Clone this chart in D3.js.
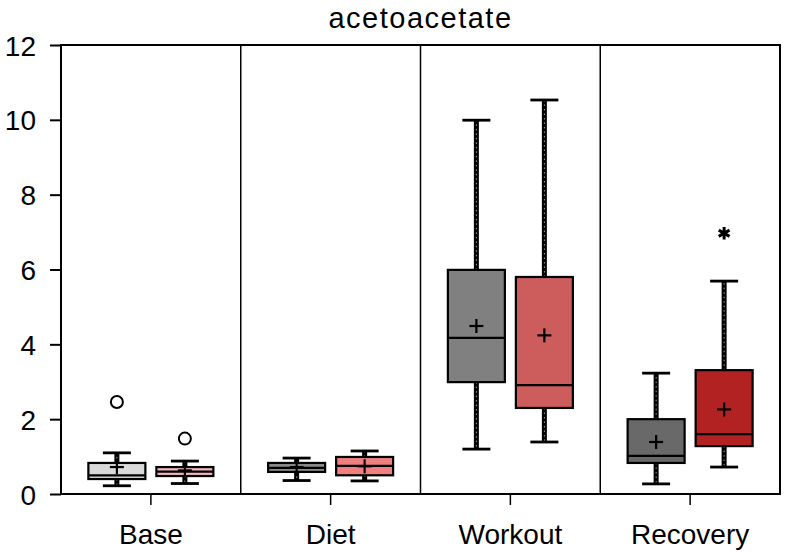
<!DOCTYPE html>
<html><head><meta charset="utf-8">
<script src="https://cdn.jsdelivr.net/npm/d3@7"></script>
<style>body{margin:0;background:#fff}svg{display:block}text{font-family:"Liberation Sans",Arial,sans-serif;fill:#000}</style>
</head><body><svg id="c" width="789" height="559"></svg>
<script>
const categories = ["Base","Diet","Workout","Recovery"];
const yTicks = [0,2,4,6,8,10,12];
// per category: whiskerMin, Q1, median, Q3, whiskerMax, mean
const g1Min = [0.22,0.36,1.20,0.27];
const g1Q1  = [0.40,0.59,2.99,0.83];
const g1Med = [0.50,0.70,4.17,1.02];
const g1Q3  = [0.83,0.83,5.99,2.00];
const g1Max = [1.10,0.96,9.99,3.23];
const g1Mean= [0.72,0.72,4.49,1.39];
const g2Min = [0.28,0.35,1.39,0.72];
const g2Q1  = [0.48,0.50,2.30,1.28];
const g2Med = [0.60,0.75,2.91,1.60];
const g2Q3  = [0.72,0.99,5.80,3.31];
const g2Max = [0.88,1.15,10.53,5.69];
const g2Mean= [0.63,0.74,4.24,2.26];
const outliers = [{cat:"Base",grp:0,v:2.46,sym:"circle"},{cat:"Base",grp:1,v:1.48,sym:"circle"},{cat:"Recovery",grp:1,v:6.97,sym:"star"}];
const colors1 = ["#d9d9d9","#8c8c8c","#808080","#696969"];
const colors2 = ["#f2b5bd","#f08080","#cd5c5c","#b22222"];
const title = "acetoacetate";

const svg = d3.select("#c");
const L=61, R=780, T=45, B=494;
const x = d3.scaleBand().domain(categories).range([L,R]).padding(0);
const y = d3.scaleLinear().domain([0,12]).range([B,T]);
const off = 34, bw = 57, cw = 28;

svg.append("rect").attr("x",L).attr("y",T).attr("width",R-L).attr("height",B-T).attr("fill","none").attr("stroke","#000").attr("stroke-width",2);
categories.slice(1).forEach(c=>{
  svg.append("line").attr("x1",x(c)).attr("x2",x(c)).attr("y1",T).attr("y2",B).attr("stroke","#000").attr("stroke-width",1.5);
});
const ya = svg.append("g").attr("transform",`translate(${L},0)`).call(d3.axisLeft(y).tickValues(yTicks).tickSize(11).tickPadding(14));
ya.select(".domain").remove();
ya.selectAll("line").attr("stroke","#000").attr("stroke-width",2);
ya.selectAll("text").attr("font-size",28).attr("dy","0.36em").style("font-family","Liberation Sans, Arial, sans-serif");
const xa = svg.append("g").attr("transform",`translate(0,${B})`).call(d3.axisBottom(x).tickSize(11).tickPadding(19));
xa.select(".domain").remove();
xa.selectAll("line").attr("stroke","#000").attr("stroke-width",1.5);
xa.selectAll("text").attr("font-size",28).style("font-family","Liberation Sans, Arial, sans-serif");

svg.append("text").attr("x",(L+R)/2).attr("y",28).attr("text-anchor","middle").attr("font-size",29).attr("letter-spacing",1.5).text(title);

function drawBox(cx, mn, q1, md, q3, mx, mean, fill){
  const g = svg.append("g");
  [[y(q3),y(mx)],[y(q1),y(mn)]].forEach(([a,b])=>{
    g.append("line").attr("x1",cx).attr("x2",cx).attr("y1",a).attr("y2",b).attr("stroke","#000").attr("stroke-width",5);
    g.append("line").attr("x1",cx).attr("x2",cx).attr("y1",a).attr("y2",b).attr("stroke","#fff").attr("stroke-width",0.8).attr("stroke-dasharray","1.5,3").attr("opacity",0.8);
  });
  [mn,mx].forEach(v=>g.append("line").attr("x1",cx-cw/2).attr("x2",cx+cw/2).attr("y1",y(v)).attr("y2",y(v)).attr("stroke","#000").attr("stroke-width",2.8));
  g.append("rect").attr("x",cx-bw/2).attr("y",y(q3)).attr("width",bw).attr("height",y(q1)-y(q3)).attr("fill",fill).attr("stroke","#000").attr("stroke-width",2.2);
  g.append("line").attr("x1",cx-bw/2).attr("x2",cx+bw/2).attr("y1",y(md)).attr("y2",y(md)).attr("stroke","#000").attr("stroke-width",2.2);
  const my=y(mean);
  g.append("line").attr("x1",cx-7).attr("x2",cx+7).attr("y1",my).attr("y2",my).attr("stroke","#000").attr("stroke-width",2.2);
  g.append("line").attr("x1",cx).attr("x2",cx).attr("y1",my-7).attr("y2",my+7).attr("stroke","#000").attr("stroke-width",2.2);
}
categories.forEach((c,i)=>{
  const cc = x(c)+x.bandwidth()/2;
  drawBox(cc-off, g1Min[i],g1Q1[i],g1Med[i],g1Q3[i],g1Max[i],g1Mean[i],colors1[i]);
  drawBox(cc+off, g2Min[i],g2Q1[i],g2Med[i],g2Q3[i],g2Max[i],g2Mean[i],colors2[i]);
});
outliers.forEach(o=>{
  const cx = x(o.cat)+x.bandwidth()/2 + (o.grp===0?-off:off);
  if(o.sym==="circle"){
    svg.append("circle").attr("cx",cx).attr("cy",y(o.v)).attr("r",6).attr("fill","#fff").attr("stroke","#000").attr("stroke-width",2);
  } else {
    svg.append("path").attr("transform",`translate(${cx},${y(o.v)})`).attr("d",d3.symbol(d3.symbolAsterisk,110)).attr("fill","none").attr("stroke","#000").attr("stroke-width",3);
  }
});
</script></body></html>
